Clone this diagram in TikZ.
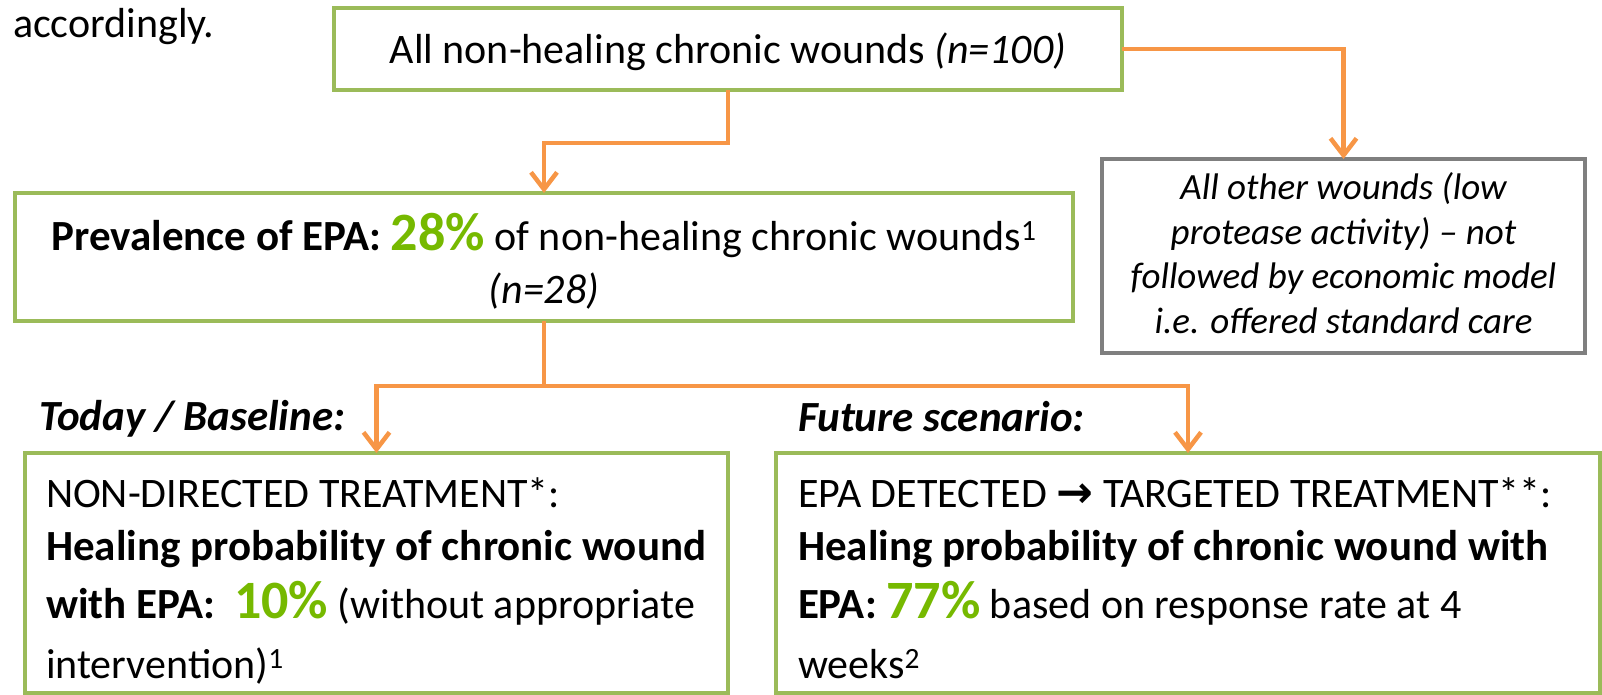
\documentclass[tikz,border=0pt]{standalone}
\usepackage{fontspec}
\setmainfont{Carlito}
\newfontfamily\arrowfont{DejaVu Sans}
\usetikzlibrary{arrows.meta}
\definecolor{boxgreen}{HTML}{9BBB59}
\definecolor{pctgreen}{HTML}{76B900}
\definecolor{arroworange}{HTML}{F79646}
\definecolor{boxgray}{HTML}{7F7F7F}
\tikzset{
  gbox/.style={draw=boxgreen, line width=4pt, fill=white, inner sep=0pt, outer sep=0pt},
  graybox/.style={draw=boxgray, line width=4pt, fill=white, inner sep=0pt, outer sep=0pt},
  conn/.style={draw=arroworange, line width=4.5pt, line join=miter,
    -{Straight Barb[length=17pt,width=26pt]}},
  txt/.style={inner sep=0pt, outer sep=0pt, font=\fontsize{42}{53}\selectfont},
  small/.style={inner sep=0pt, outer sep=0pt, font=\fontsize{37}{44.5}\selectfont\itshape},
}
\newcommand{\pct}[1]{{\fontsize{54}{54}\selectfont\bfseries\color{pctgreen}#1}}
\newcommand{\bld}[1]{{\fontsize{43}{53}\selectfont\bfseries #1}}
\begin{document}
\begin{tikzpicture}[x=1pt,y=-1pt]
\useasboundingbox (0,0) rectangle (1602,694);
% boxes
\node[gbox, minimum width=788pt, minimum height=82pt] (top) at (728,49) {};
\node[gbox, minimum width=1058pt, minimum height=128pt] (prev) at (544,257) {};
\node[graybox, minimum width=483pt, minimum height=194pt] (other) at (1343.5,256) {};
\node[gbox, minimum width=703pt, minimum height=240pt] (base) at (376.5,573) {};
\node[gbox, minimum width=824pt, minimum height=240pt] (future) at (1188,573) {};
% texts
\node[txt, anchor=base west] (acc) at (13,37) {accordingly.};
\node[txt, anchor=base] (ttop) at (728,63) {All non-healing chronic wounds \textit{(n=100)}};
\node[txt, anchor=base, align=center] (tprev) at (544,303)
  {\bld{Prevalence of EPA:} \pct{28\%} of non-healing chronic wounds\textsuperscript{1}\\ \textit{(n=28)}};
\node[small, anchor=base, align=center] (tother) at (1343.5,333)
  {All other wounds (low\\ protease activity) -- not\\ followed by economic model\\ i.e. offered standard care};
\node[txt, anchor=base west, font=\fontsize{43}{53}\selectfont\bfseries\itshape] (today) at (39,430) {Today / Baseline:};
\node[txt, anchor=base west, font=\fontsize{43}{53}\selectfont\bfseries\itshape] (fut) at (798,431) {Future scenario:};
\node[txt, anchor=base west, align=left] (tbase) at (46,678)
  {NON-DIRECTED TREATMENT*:\\[0pt]
   \bld{Healing probability of chronic wound}\\[5pt]
   \bld{with EPA:}\ \ \pct{10\%} (without appropriate\\[7pt]
   intervention)\textsuperscript{1}};
\node[txt, anchor=base west, align=left] (tfuture) at (798,678)
  {EPA DETECTED {\arrowfont\bfseries\fontsize{44}{44}\selectfont →} TARGETED TREATMENT**:\\[0pt]
   \bld{Healing probability of chronic wound with}\\[5pt]
   \bld{EPA:} \pct{77\%} based on response rate at 4\\[7pt]
   weeks\textsuperscript{2}};
% connectors
\coordinate (k1) at (728,143);
\coordinate (split) at (544,386);
\draw[conn] (top.south) -- (k1) -| (prev.north);
\draw[conn] (top.east) -| (other.north);
\draw[conn] (prev.south) -- (split) -| (base.north);
\draw[conn] (split) -| (future.north);
\end{tikzpicture}
\end{document}
